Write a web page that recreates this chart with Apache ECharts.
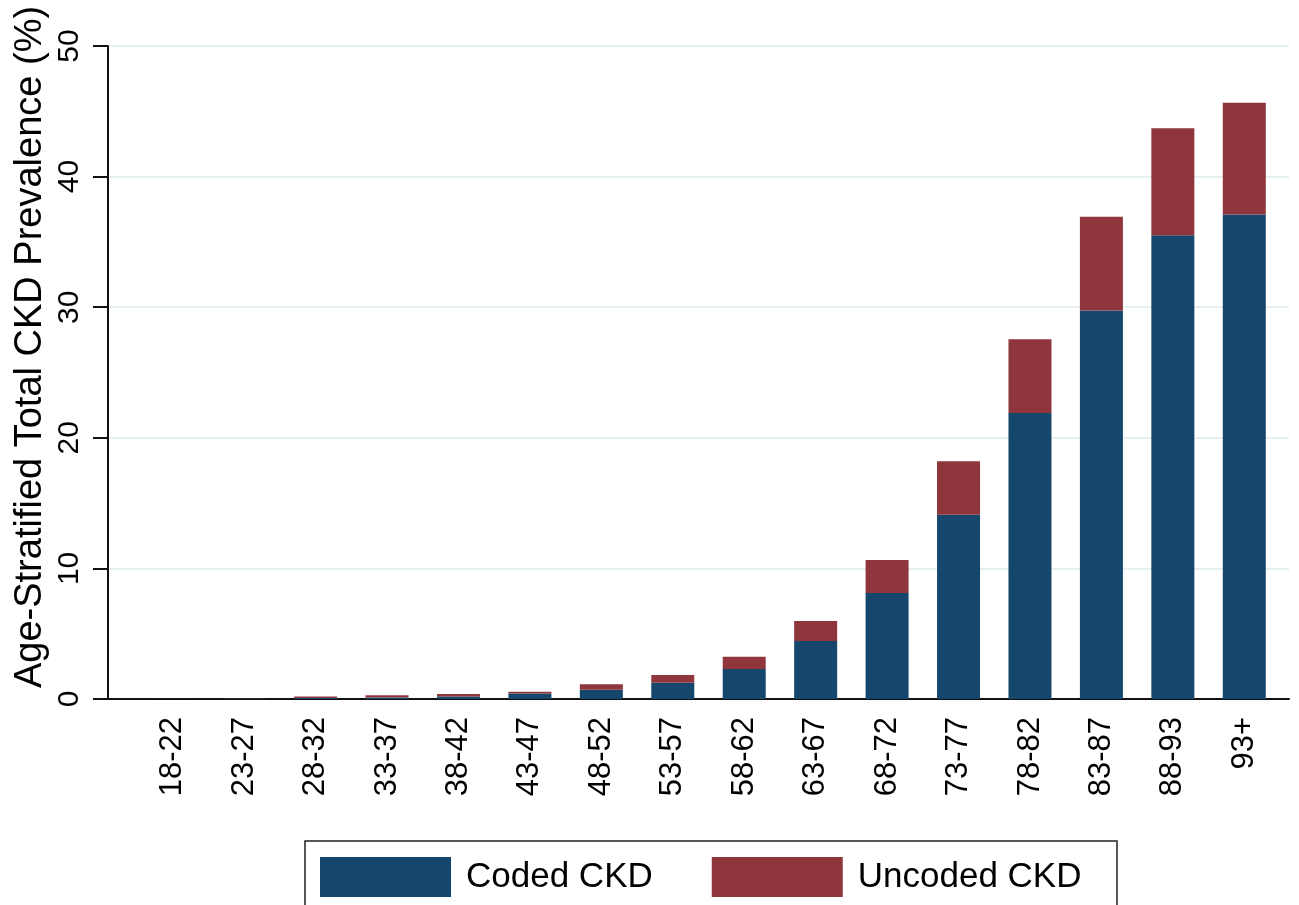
<!DOCTYPE html>
<html>
<head>
<meta charset="utf-8">
<script src="https://cdn.jsdelivr.net/npm/echarts@6/dist/echarts.min.js"></script>
<style>html,body{margin:0;padding:0;background:#fff;}#c{width:1299px;height:905px;}</style>
</head>
<body>
<div id="c"></div>
<script>
const ageGroups = ['18-22','23-27','28-32','33-37','38-42','43-47','48-52','53-57','58-62','63-67','68-72','73-77','78-82','83-87','88-93','93+'];
const codedCKD = [0.01,0.02,0.07,0.12,0.2,0.43,0.7,1.25,2.3,4.44,8.12,14.1,21.9,29.75,35.5,37.1];
const uncodedCKD = [0.01,0.02,0.13,0.16,0.18,0.13,0.42,0.59,0.94,1.53,2.52,4.1,5.65,7.18,8.2,8.56];
const yTicks = [0,10,20,30,40,50];
const yTitle = 'Age-Stratified Total CKD Prevalence (%)';

const FONT = "'Liberation Sans', Arial, Helvetica, sans-serif";
const chart = echarts.init(document.getElementById('c'), null, {renderer:'canvas'});
chart.setOption({
  backgroundColor:'#fff',
  animation:false,
  grid:[
    {left:108, right:10, top:46, bottom:206},
    {left:137, right:19, top:46, bottom:206}
  ],
  xAxis:[
    {gridIndex:0, type:'value', min:0, max:1, axisLine:{show:true, onZero:false, lineStyle:{color:'#111', width:2}}, axisTick:{show:false}, axisLabel:{show:false}, splitLine:{show:false}},
    {gridIndex:1, type:'category', data:ageGroups, axisLine:{show:false}, axisTick:{show:false},
     axisLabel:{rotate:90, fontSize:31, color:'#000', fontFamily:FONT, margin:18, interval:0}}
  ],
  yAxis:[
    {gridIndex:0, type:'value', min:yTicks[0], max:yTicks[yTicks.length-1], interval:10,
     axisLine:{show:true, lineStyle:{color:'#111', width:2}},
     axisTick:{show:true, length:15, lineStyle:{color:'#111', width:2}},
     axisLabel:{rotate:90, fontSize:30, color:'#000', fontFamily:FONT, margin:23},
     splitLine:{show:true, lineStyle:{color:'#e6f0f1', width:2}}},
    {gridIndex:1, type:'value', min:0, max:50, show:false, splitLine:{show:false}}
  ],
  legend:{
    left:315, top:852, itemWidth:131, itemHeight:40, itemGap:59,
    icon:'rect',
    textStyle:{fontSize:35, color:'#000', fontFamily:FONT, padding:[0,0,0,10]},
    data:['Coded CKD','Uncoded CKD']
  },
  graphic:[
    {type:'text', x:31, y:347, rotation:Math.PI/2,
     style:{text:yTitle, fontSize:38, fontFamily:FONT, fill:'#000', align:'center', verticalAlign:'middle'}},
    {type:'rect', shape:{x:305, y:841, width:812, height:100}, style:{fill:'none', stroke:'#222', lineWidth:1.5}}
  ],
  series:[
    {name:'Coded CKD', type:'bar', stack:'t', xAxisIndex:1, yAxisIndex:1, barWidth:43, data:codedCKD, itemStyle:{color:'#15476d'}},
    {name:'Uncoded CKD', type:'bar', stack:'t', xAxisIndex:1, yAxisIndex:1, barWidth:43, data:uncodedCKD, itemStyle:{color:'#8f353c'}}
  ]
});
</script>
</body>
</html>
